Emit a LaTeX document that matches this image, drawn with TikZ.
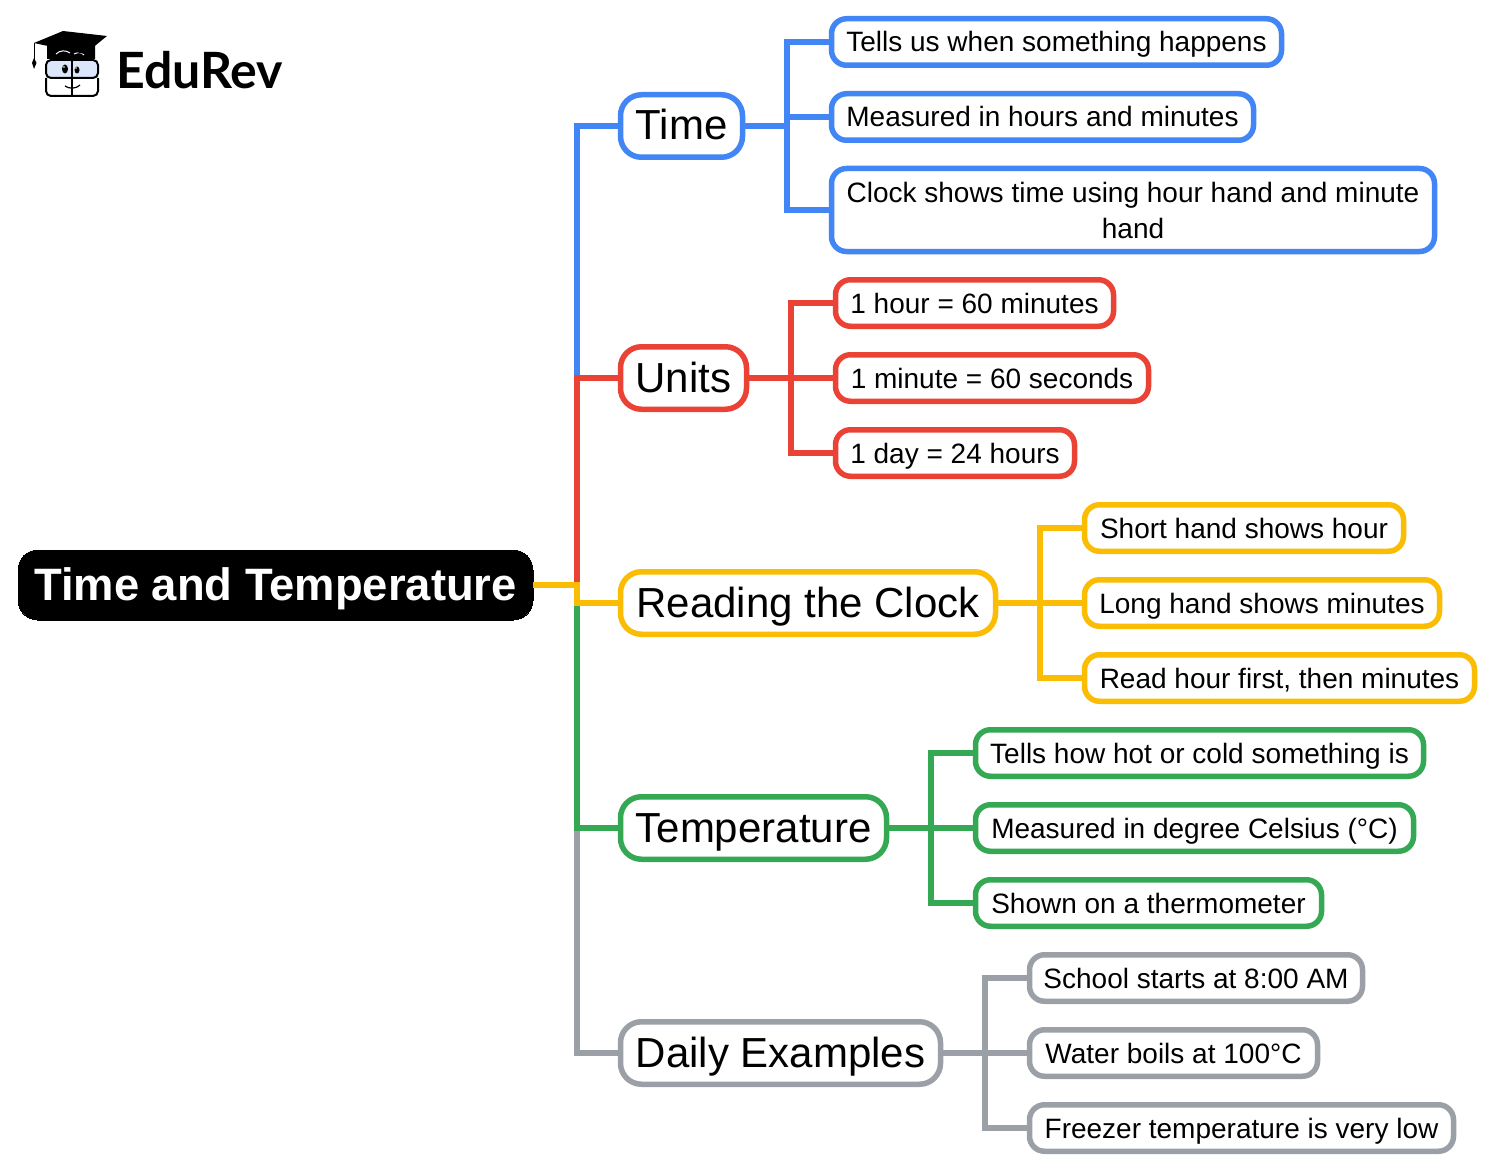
\documentclass[tikz,border=0pt]{standalone}
\usepackage{fontspec}
\setmainfont{Liberation Sans}
\newfontfamily\logofont{Lato}
\definecolor{cblue}{HTML}{4285F4}
\definecolor{cred}{HTML}{EA4335}
\definecolor{cyellow}{HTML}{FBBC04}
\definecolor{cgreen}{HTML}{34A853}
\definecolor{cgray}{HTML}{9AA0A6}
\definecolor{glass}{HTML}{DCE6FB}
\tikzset{
  basebox/.style={rectangle,inner sep=0pt,outer sep=0pt,fill=white,text=black,line width=5.5pt},
  rootbox/.style={basebox,fill=black,text=white,draw=black,line width=0pt,rounded corners=20pt,minimum width=515pt,minimum height=70pt,text height=38pt,text depth=8pt,font=\bfseries\fontsize{45.4}{45.4}\selectfont},
  mainbox/.style={basebox,draw=#1,rounded corners=21pt,minimum height=62.5pt,text height=36pt,text depth=8pt,font=\fontsize{42}{42}\selectfont},
  subbox/.style={basebox,draw=#1,rounded corners=15pt,minimum height=46.5pt,font=\fontsize{28}{36}\selectfont,align=center},
  subline/.style={subbox=#1,text height=26pt,text depth=6pt},
  link/.style={draw=#1,line width=6pt,line join=miter,line cap=butt},
}
\begin{document}
\begin{tikzpicture}[x=1pt,y=-1pt]
\useasboundingbox (0,0) rectangle (1491,1169);
\fill[white] (0,0) rectangle (1491,1169);
% named trunk coordinates
\coordinate (tr0) at (577,0);
\coordinate (tr1) at (787,0);
\coordinate (tr2) at (791,0);
\coordinate (tr3) at (1040,0);
\coordinate (tr4) at (931,0);
\coordinate (tr5) at (985,0);
% nodes
\node[rootbox] (root) at (275.5,585) {Time and Temperature};

\node[mainbox=cblue,minimum width=122pt] (time) at (681.5,126) {Time};
\node[mainbox=cred,minimum width=126pt] (units) at (683.5,378) {Units};
\node[mainbox=cyellow,minimum width=375pt] (clock) at (808,603) {Reading the Clock};
\node[mainbox=cgreen,minimum width=266pt] (temp) at (753.5,828) {Temperature};
\node[mainbox=cgray,minimum width=320pt] (daily) at (780.5,1053) {Daily Examples};

\node[subline=cblue,minimum width=450pt] (a1) at (1056.5,42) {Tells us when something happens};
\node[subline=cblue,minimum width=422pt] (a2) at (1042.5,117) {Measured in hours and minutes};
\node[subbox=cblue,minimum width=603pt,minimum height=83pt] (a3) at (1133,210) {Clock shows time using hour hand and minute\\hand};

\node[subline=cred,minimum width=278pt] (b1) at (974.5,303) {1 hour = 60 minutes};
\node[subline=cred,minimum width=313pt] (b2) at (992,378) {1 minute = 60 seconds};
\node[subline=cred,minimum width=239pt] (b3) at (955,453) {1 day = 24 hours};

\node[subline=cyellow,minimum width=319pt] (c1) at (1244,528) {Short hand shows hour};
\node[subline=cyellow,minimum width=355pt] (c2) at (1262,603) {Long hand shows minutes};
\node[subline=cyellow,minimum width=390pt] (c3) at (1279.5,678) {Read hour first, then minutes};

\node[subline=cgreen,minimum width=448pt] (d1) at (1199.5,753) {Tells how hot or cold something is};
\node[subline=cgreen,minimum width=438pt] (d2) at (1194.5,828) {Measured in degree Celsius (°C)};
\node[subline=cgreen,minimum width=346pt] (d3) at (1148.5,903) {Shown on a thermometer};

\node[subline=cgray,minimum width=333pt] (e1) at (1196,978) {School starts at 8:00 AM};
\node[subline=cgray,minimum width=288pt] (e2) at (1173.5,1053) {Water boils at 100°C};
\node[subline=cgray,minimum width=424pt] (e3) at (1241.5,1128) {Freezer temperature is very low};

% connectors
\foreach \col/\kid in {cblue/time,cgray/daily,cred/units,cgreen/temp,cyellow/clock}{
  \draw[link=\col] (root.east) -- (tr0 |- root.east) -- (tr0 |- \kid.west) -- (\kid.west);
}
\foreach \kid in {a1,a2,a3}{\draw[link=cblue] (time.east) -- (tr1 |- time.east) -- (tr1 |- \kid.west) -- (\kid.west);}
\foreach \kid in {b1,b2,b3}{\draw[link=cred] (units.east) -- (tr2 |- units.east) -- (tr2 |- \kid.west) -- (\kid.west);}
\foreach \kid in {c1,c2,c3}{\draw[link=cyellow] (clock.east) -- (tr3 |- clock.east) -- (tr3 |- \kid.west) -- (\kid.west);}
\foreach \kid in {d1,d2,d3}{\draw[link=cgreen] (temp.east) -- (tr4 |- temp.east) -- (tr4 |- \kid.west) -- (\kid.west);}
\foreach \kid in {e1,e2,e3}{\draw[link=cgray] (daily.east) -- (tr5 |- daily.east) -- (tr5 |- \kid.west) -- (\kid.west);}

% logo
\node[anchor=west,inner sep=0pt,font=\logofont\bfseries\fontsize{50}{50}\selectfont] (logo) at (116,70) {EduRev};
\fill[black] (47,46) -- (47,59) -- (95,59) -- (95,44) -- cycle;
\draw[white,line width=1pt] (56,54) .. controls (60,50) and (66,50) .. (70,53);
\draw[white,line width=1pt] (74,54) .. controls (78,52) and (81,52) .. (84,55);
\fill[black] (34,43) -- (63,31) -- (107,36) -- (85,54) -- cycle;
\draw[black,line width=1pt] (34,43) -- (34,60);
\fill[black] (34,58) -- (36.5,63) -- (34,69) -- (32,63) -- cycle;
\draw[black,line width=2pt,fill=glass,rounded corners=5pt] (46,60) rectangle (98,78);
\draw[black,line width=2pt,rounded corners=5pt] (46,78) -- (46,96) -- (98,96) -- (98,78);
\draw[black,line width=2pt] (72,58) -- (72,97);
\fill[black] (65,69) ellipse (3pt and 4.5pt);
\fill[black] (77,70) ellipse (2.5pt and 3.5pt);
\fill[white] (64,67) circle (0.9pt);
\fill[white] (76,68) circle (0.8pt);
\draw[black,line width=1.2pt] (65,86) .. controls (69,89) and (76,89) .. (80,85);
\end{tikzpicture}
\end{document}
